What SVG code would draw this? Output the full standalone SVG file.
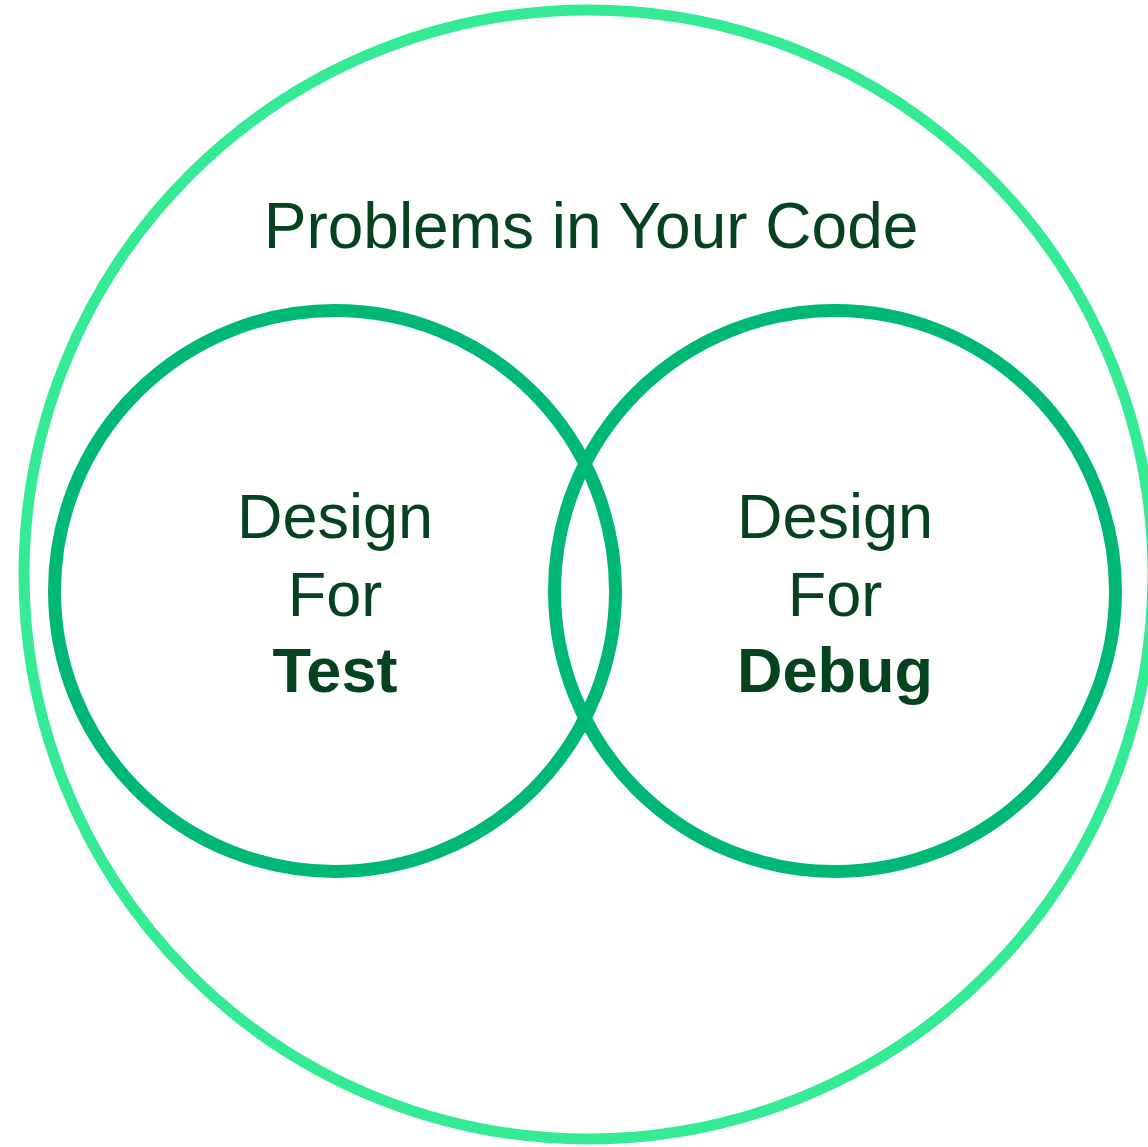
<svg xmlns="http://www.w3.org/2000/svg" width="1148" height="1147" viewBox="0 0 1148 1147">
<style>
.outer{fill:none;stroke:#35EA95;stroke-width:11}
.inner{fill:none;stroke:#00B876;stroke-width:13}
text{font-family:"Liberation Sans",Arial,sans-serif;fill:#05421F;text-anchor:middle}
.t{font-size:64px}
.l{font-size:63px}
.b{font-size:63px;font-weight:bold}
</style>
<rect width="1148" height="1147" fill="#ffffff"/>
<g id="problems">
<circle class="outer" cx="588.5" cy="574.5" r="564.5"/>
<text class="t" x="591" y="248">Problems in Your Code</text>
</g>
<g id="dft">
<circle class="inner" cx="335" cy="591" r="280.5"/>
<text class="l" x="335" y="538">Design</text>
<text class="l" x="335" y="616">For</text>
<text class="b" x="335" y="692">Test</text>
</g>
<g id="dfd">
<circle class="inner" cx="835" cy="591" r="280.5"/>
<text class="l" x="835" y="538">Design</text>
<text class="l" x="835" y="616">For</text>
<text class="b" x="835" y="692">Debug</text>
</g>
<g id="connectors"/>
</svg>
